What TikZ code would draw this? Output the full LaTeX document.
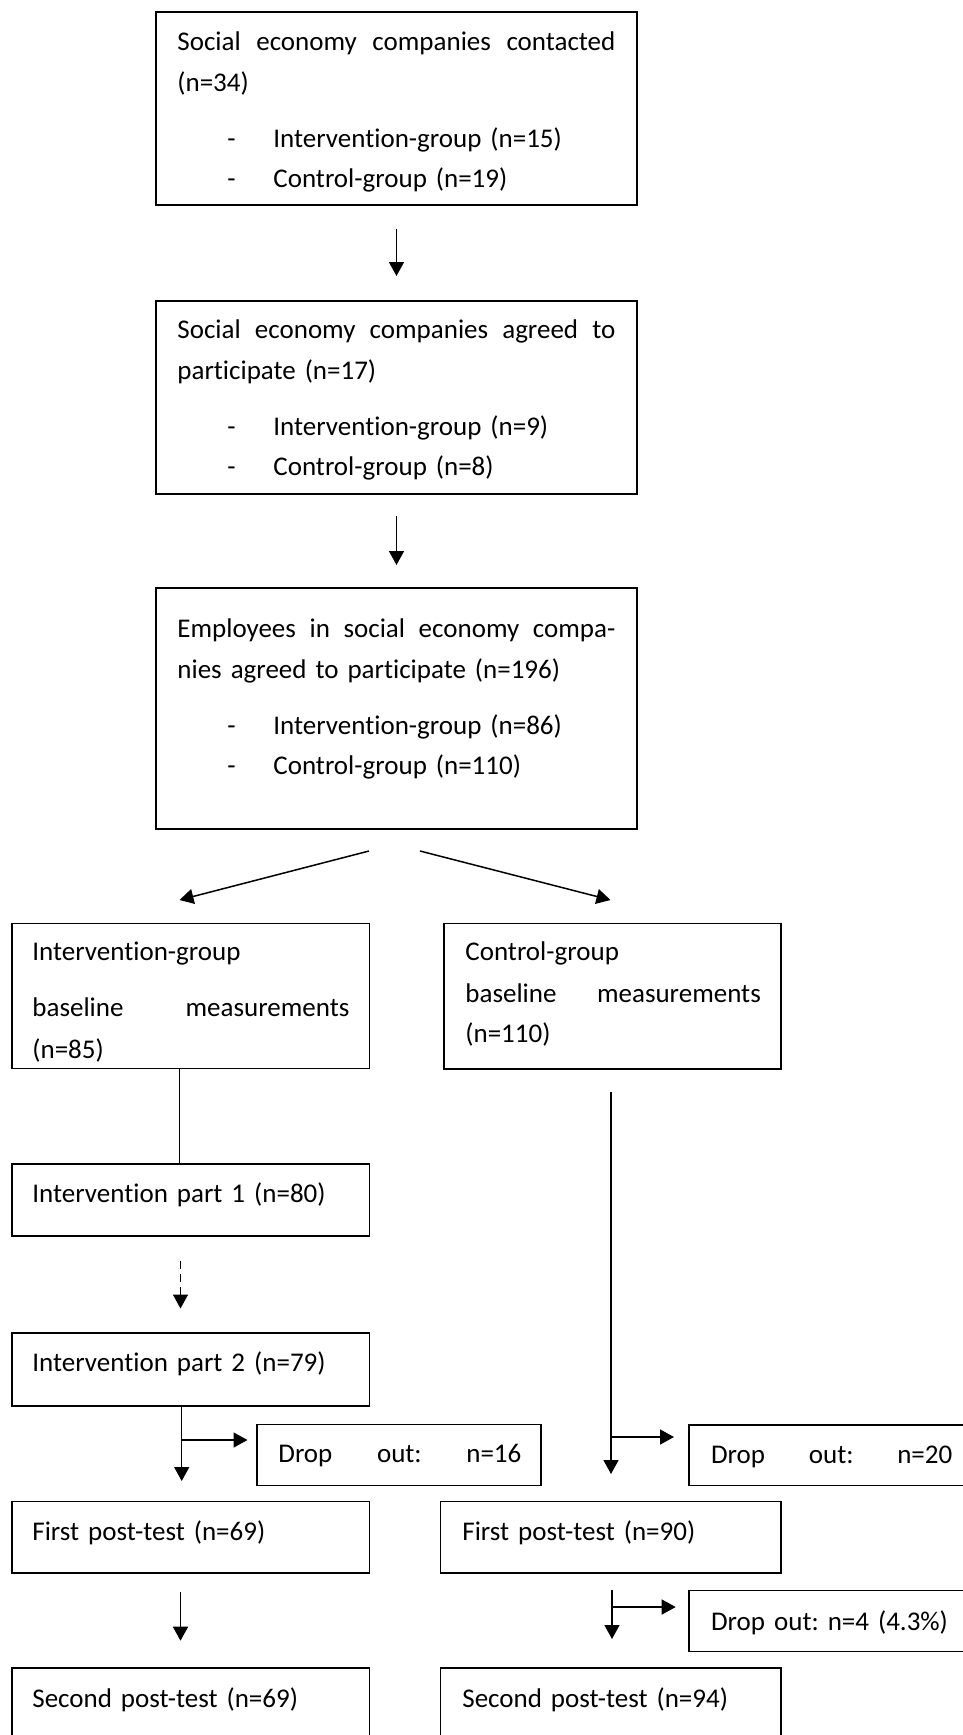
\documentclass[tikz,border=0pt]{standalone}
\usepackage{fontspec}
\setmainfont{Carlito}[Ligatures={TeX,NoCommon}]
\usetikzlibrary{arrows.meta,fit}
\frenchspacing
\newcommand\mkbox[5]{%
  \path (#2,#3) coordinate (#1nw) (#4,#5) coordinate (#1se);
  \node[boxst, fit=(#1nw)(#1se)] (#1) {};}
\newcommand\itm[1]{\hspace*{25pt}\makebox[23pt][l]{-}#1}
\newcommand\jline[2]{\makebox[#1]{#2}}
\begin{document}
\begin{tikzpicture}[x=0.5pt,y=-0.5pt,
  boxst/.style={draw, line width=0.85pt, inner sep=0pt},
  txt/.style={inner sep=0pt, anchor=base west, align=left, text width=260pt,
    font=\fontsize{13.5pt}{20.5pt}\selectfont},
  arr/.style={line width=0.75pt, -{Triangle[length=7pt,width=7.5pt]}},
  ln/.style={line width=0.75pt},
  dsh/.style={arr, dash pattern=on 4pt off 2.5pt}]
\useasboundingbox (0,0) rectangle (963,1735);
% boxes
\mkbox{b1}{156}{12}{637}{205}
\mkbox{b2}{156}{300.7}{637}{493.7}
\mkbox{b3}{156}{588}{637}{829}
\mkbox{ig}{11.7}{923.5}{369.5}{1068.5}
\mkbox{cg}{444}{923.5}{781}{1069}
\mkbox{ipa}{11.7}{1164}{369.5}{1236}
\mkbox{ipb}{11.7}{1333}{369.5}{1406}
\mkbox{dsa}{257}{1424.5}{541}{1485.5}
\mkbox{dsb}{689}{1425}{995}{1485.5}
\mkbox{fl}{11.7}{1501.5}{369.5}{1572.8}
\mkbox{fr}{440.4}{1501.5}{781.3}{1572.8}
\mkbox{dsc}{689}{1590.5}{995}{1651.5}
\mkbox{sl}{11.7}{1668}{369.5}{1770}
\mkbox{sr}{440.4}{1668}{781.3}{1770}
% texts
\node[txt] (t1) at (177,50) {\jline{219pt}{Social\hfill economy\hfill companies\hfill contacted}\\
  (n=34)\\[7.6pt]
  \itm{Intervention-group (n=15)}\\[-0.5pt]
  \itm{Control-group (n=19)}};
\node[txt] (t2) at (177,338.5) {\jline{219pt}{Social\hfill economy\hfill companies\hfill agreed\hfill to}\\
  participate (n=17)\\[7.6pt]
  \itm{Intervention-group (n=9)}\\[-0.5pt]
  \itm{Control-group (n=8)}};
\node[txt] (t3) at (177,637) {\jline{219pt}{Employees\hfill in\hfill social\hfill economy\hfill compa-}\\
  nies agreed to participate (n=196)\\[7.6pt]
  \itm{Intervention-group (n=86)}\\[-0.5pt]
  \itm{Control-group (n=110)}};
\begin{scope}
\clip (11.7,923.5) rectangle (369.5,1061);
\node[txt] (tig) at (32,960.7) {Intervention-group\\[7.5pt]
  \jline{158.5pt}{baseline\hfill measurements}\\[0.6pt]
  (n=85)};
\end{scope}
\node[txt] (tcg) at (465,960.7) {Control-group\\[0.5pt]
  \jline{147.7pt}{baseline\hfill measurements}\\[-0.4pt]
  (n=110)};
\node[txt] (tipa) at (32,1202.4) {Intervention part 1 (n=80)};
\node[txt] (tipb) at (32,1371) {Intervention part 2 (n=79)};
\node[txt] (tdsa) at (278,1462.5) {\jline{121.5pt}{Drop\hfill out:\hfill n=16}};
\node[txt] (tdsb) at (710.7,1463) {\jline{120.6pt}{Drop\hfill out:\hfill n=20}};
\node[txt] (tfl) at (32,1540) {First post-test (n=69)};
\node[txt] (tfr) at (462,1540) {First post-test (n=90)};
\node[txt] (tdsc) at (710.7,1630) {Drop out: n=4 (4.3\%)};
\node[txt] (tsl) at (32,1707) {Second post-test (n=69)};
\node[txt] (tsr) at (462,1707) {Second post-test (n=94)};
% connector end points
\coordinate (a1s) at (396.5,229);  \coordinate (a1e) at (396.5,276);
\coordinate (a2s) at (396.5,516);  \coordinate (a2e) at (396.5,565);
\coordinate (dls) at (369,851);    \coordinate (dle) at (179.5,900);
\coordinate (drs) at (420,851);    \coordinate (dre) at (610.5,900);
\coordinate (igl) at (179.5,1068.5); \coordinate (ipt) at (179.5,1164);
\coordinate (dss) at (180.5,1261); \coordinate (dse) at (180.5,1308.5);
\coordinate (pbs) at (181.7,1406); \coordinate (pbe) at (181.7,1481);
\coordinate (pbm) at (181.7,1440); \coordinate (pbr) at (247.5,1440);
\coordinate (cgs) at (611,1092);   \coordinate (cge) at (611,1474);
\coordinate (cgm) at (611,1437);   \coordinate (cgr) at (674,1437);
\coordinate (fls) at (180.5,1592); \coordinate (fle) at (180.5,1640.7);
\coordinate (frs) at (612,1590);   \coordinate (fre) at (612,1639);
\coordinate (frm) at (612,1607);   \coordinate (frr) at (675.7,1607);
% connectors
\draw[arr] (a1s) -- (a1e);
\draw[arr] (a2s) -- (a2e);
\draw[arr] (dls) -- (dle);
\draw[arr] (drs) -- (dre);
\draw[ln] (igl) -- (ipt);
\draw[dsh] (dss) -- (dse);
\draw[arr] (pbs) -- (pbe);
\draw[arr] (pbm) -- (pbr);
\draw[arr] (cgs) -- (cge);
\draw[arr] (cgm) -- (cgr);
\draw[arr] (fls) -- (fle);
\draw[arr] (frs) -- (fre);
\draw[arr] (frm) -- (frr);
\end{tikzpicture}
\end{document}
